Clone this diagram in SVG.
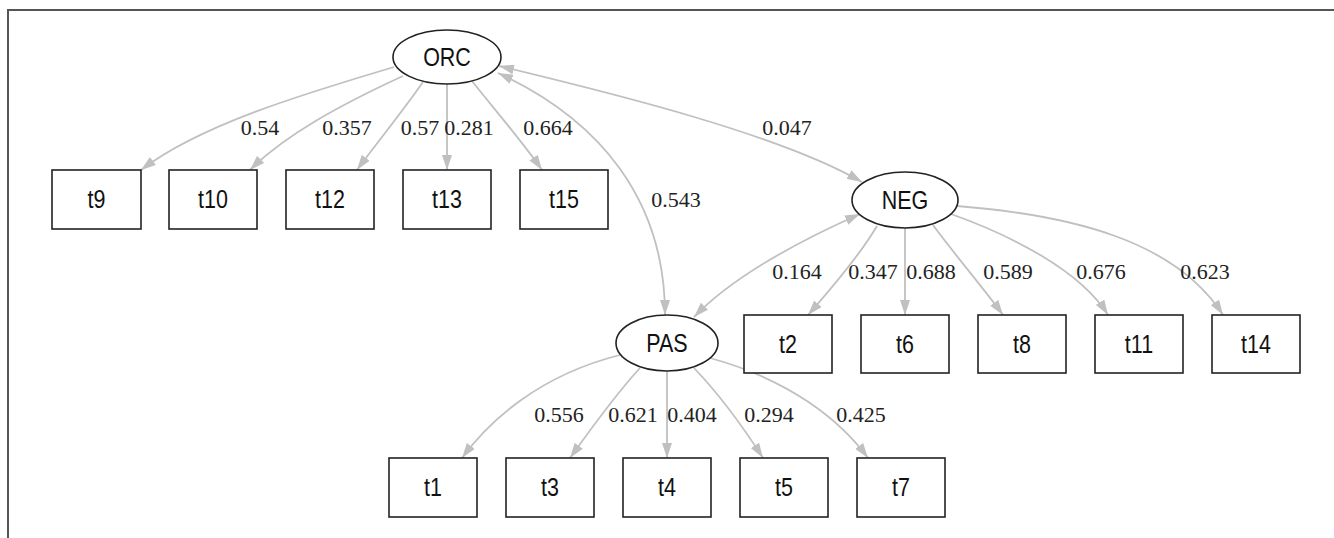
<svg xmlns="http://www.w3.org/2000/svg" width="1334" height="538" viewBox="0 0 1334 538">
<style>
.frame{fill:none;stroke:#555;stroke-width:2}
.node rect,.node ellipse{fill:#fff;stroke:#222;stroke-width:1.6}
.node text{font-family:"Liberation Sans",Arial,sans-serif;font-size:25px;fill:#111;text-anchor:middle;dominant-baseline:central}
.edges path{fill:none;stroke:#c0c0c0;stroke-width:1.8}
.lbl{font-family:"Liberation Serif","Times New Roman",serif;font-size:22px;fill:#222;text-anchor:middle}
</style>
<defs>
<marker id="ah" viewBox="0 0 15 10" refX="15" refY="5" markerWidth="15" markerHeight="10" markerUnits="userSpaceOnUse" orient="auto-start-reverse">
<path d="M0,0 L15,5 L0,10 z" fill="#c0c0c0"/>
</marker>
</defs>
<rect width="1334" height="538" fill="#fff"/>
<path class="frame" d="M8,538 L8,10 L1334,10"/>
<g class="edges">
<path d="M394,67 C300,95 200,125 141,170" marker-end="url(#ah)"/>
<path d="M403,76 C340,105 285,135 250,170" marker-end="url(#ah)"/>
<path d="M423,82 C400,115 375,145 357,170" marker-end="url(#ah)"/>
<path d="M447,84 L447,170" marker-end="url(#ah)"/>
<path d="M472,81 C495,110 525,145 542,170" marker-end="url(#ah)"/>
<path d="M499,66 C620,95 780,135 862,182" marker-start="url(#ah)" marker-end="url(#ah)"/>
<path d="M498,73 C600,120 665,200 665,315" marker-start="url(#ah)" marker-end="url(#ah)"/>
<path d="M860,214 C790,245 730,280 694,317" marker-start="url(#ah)" marker-end="url(#ah)"/>
<path d="M877,226 C860,255 830,290 808,315" marker-end="url(#ah)"/>
<path d="M905,228 L905,315" marker-end="url(#ah)"/>
<path d="M933,225 C955,255 985,290 1003,315" marker-end="url(#ah)"/>
<path d="M951,214 C1010,235 1080,270 1108,315" marker-end="url(#ah)"/>
<path d="M957,206 C1070,215 1175,240 1223,315" marker-end="url(#ah)"/>
<path d="M620,355 C540,375 490,420 462,458" marker-end="url(#ah)"/>
<path d="M640,368 C615,395 590,430 570,458" marker-end="url(#ah)"/>
<path d="M667,371 L667,458" marker-end="url(#ah)"/>
<path d="M694,368 C720,395 745,430 763,458" marker-end="url(#ah)"/>
<path d="M710,358 C790,380 840,420 868,458" marker-end="url(#ah)"/>
</g>
<g class="labels">
<text class="lbl" x="260" y="135">0.54</text>
<text class="lbl" x="347" y="135">0.357</text>
<text class="lbl" x="420" y="135">0.57</text>
<text class="lbl" x="469" y="135">0.281</text>
<text class="lbl" x="548" y="135">0.664</text>
<text class="lbl" x="787" y="135">0.047</text>
<text class="lbl" x="676" y="207">0.543</text>
<text class="lbl" x="797" y="279">0.164</text>
<text class="lbl" x="873" y="279">0.347</text>
<text class="lbl" x="931" y="279">0.688</text>
<text class="lbl" x="1008" y="279">0.589</text>
<text class="lbl" x="1101" y="279">0.676</text>
<text class="lbl" x="1205" y="279">0.623</text>
<text class="lbl" x="559" y="422">0.556</text>
<text class="lbl" x="633" y="422">0.621</text>
<text class="lbl" x="692" y="422">0.404</text>
<text class="lbl" x="769" y="422">0.294</text>
<text class="lbl" x="861" y="422">0.425</text>
</g>
<g id="ORC" class="node"><ellipse cx="447" cy="57" rx="54" ry="27"/><text transform="translate(447,57) scale(0.86,1)">ORC</text></g>
<g id="NEG" class="node"><ellipse cx="905" cy="200" rx="53" ry="28"/><text transform="translate(905,200) scale(0.86,1)">NEG</text></g>
<g id="PAS" class="node"><ellipse cx="667" cy="343" rx="51" ry="28"/><text transform="translate(667,343) scale(0.86,1)">PAS</text></g>
<g id="t9" class="node"><rect x="52" y="170" width="89" height="59"/><text transform="translate(96.5,199.5) scale(0.86,1)">t9</text></g>
<g id="t10" class="node"><rect x="169" y="170" width="88" height="59"/><text transform="translate(213,199.5) scale(0.86,1)">t10</text></g>
<g id="t12" class="node"><rect x="286" y="170" width="88" height="59"/><text transform="translate(330,199.5) scale(0.86,1)">t12</text></g>
<g id="t13" class="node"><rect x="403" y="170" width="88" height="59"/><text transform="translate(447,199.5) scale(0.86,1)">t13</text></g>
<g id="t15" class="node"><rect x="520" y="170" width="88" height="59"/><text transform="translate(564,199.5) scale(0.86,1)">t15</text></g>
<g id="t2" class="node"><rect x="744" y="315" width="88" height="58"/><text transform="translate(788,344) scale(0.86,1)">t2</text></g>
<g id="t6" class="node"><rect x="861" y="315" width="88" height="58"/><text transform="translate(905,344) scale(0.86,1)">t6</text></g>
<g id="t8" class="node"><rect x="978" y="315" width="88" height="58"/><text transform="translate(1022,344) scale(0.86,1)">t8</text></g>
<g id="t11" class="node"><rect x="1095" y="315" width="88" height="58"/><text transform="translate(1139,344) scale(0.86,1)">t11</text></g>
<g id="t14" class="node"><rect x="1212" y="315" width="88" height="58"/><text transform="translate(1256,344) scale(0.86,1)">t14</text></g>
<g id="t1" class="node"><rect x="389" y="458" width="88" height="59"/><text transform="translate(433,487.5) scale(0.86,1)">t1</text></g>
<g id="t3" class="node"><rect x="506" y="458" width="88" height="59"/><text transform="translate(550,487.5) scale(0.86,1)">t3</text></g>
<g id="t4" class="node"><rect x="623" y="458" width="88" height="59"/><text transform="translate(667,487.5) scale(0.86,1)">t4</text></g>
<g id="t5" class="node"><rect x="740" y="458" width="88" height="59"/><text transform="translate(784,487.5) scale(0.86,1)">t5</text></g>
<g id="t7" class="node"><rect x="857" y="458" width="88" height="59"/><text transform="translate(901,487.5) scale(0.86,1)">t7</text></g>
</svg>
